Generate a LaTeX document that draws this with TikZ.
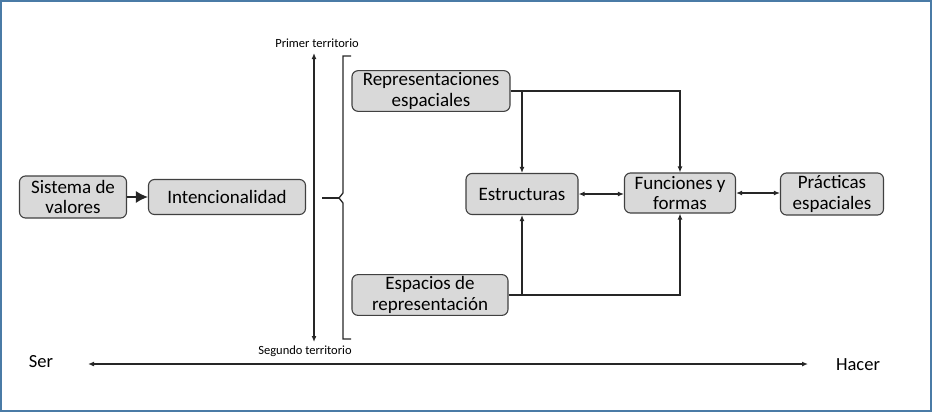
\documentclass[tikz,border=0pt]{standalone}
\usepackage{fontspec}
\setmainfont{Carlito}
\usepackage{xcolor}
\usetikzlibrary{arrows.meta, positioning}

\definecolor{boxgray}{HTML}{D9D9D9}
\definecolor{boxline}{HTML}{404040}
\definecolor{framecol}{HTML}{4A7BA6}

\begin{document}
\begin{tikzpicture}[
        x=1pt, y=-1pt,
        box/.style={rectangle, rounded corners=6pt, draw=boxline, fill=boxgray,
                    line width=1.1pt, align=center, inner sep=2pt,
                    font=\fontsize{19}{20.5}\selectfont},
        lbl/.style={inner sep=0pt, font=\fontsize{12.5}{14}\selectfont},
        end/.style={inner sep=0pt, font=\fontsize{18.5}{20}\selectfont},
        conn/.style={-{Latex[length=6pt,width=5pt]}, line width=1.4pt, black!85},
        dconn/.style={{Latex[length=6pt,width=5pt]}-{Latex[length=6pt,width=5pt]}, line width=1.4pt, black!85},
        big/.style={-{Latex[length=12pt,width=12pt]}, line width=1.5pt, black!85},
    ]
        % frame
        \useasboundingbox (0,0) rectangle (932,413);
        \draw[framecol, line width=2pt] (1,1) rectangle (931,411);

        % left side
        \node[box, minimum width=107pt, minimum height=42pt] (sv)  at (73,197)  {Sistema de\\valores};
        \node[box, minimum width=157pt, minimum height=35pt] (int) at (227,197) {Intencionalidad};
        \draw[big] (sv) -- (int);

        % territories
        \node[lbl] (prim) at (317,43)  {Primer territorio};
        \node[lbl] (seg)  at (305,351) {Segundo territorio};
        \coordinate (tup) at (314,53);
        \coordinate (tdn) at (314,342);
        \draw[dconn] (tup) -- (tdn);

        % brace
        \coordinate (tip) at (339,198);
        \draw[line width=1.3pt, black!85] (351,56) -- (343,56) -- (343,193) -- (tip) -- (343,203) -- (343,339) -- (351,339);
        \draw[line width=1.3pt, black!85] ([xshift=16pt]int.east |- tip) -- (tip);

        % right side
        \node[box, minimum width=158pt, minimum height=38pt] (rep) at (431,91)  {Representaciones\\espaciales};
        \node[box, minimum width=156pt, minimum height=39pt] (esp) at (430,295) {Espacios de\\representación};
        \node[box, minimum width=112pt, minimum height=41pt] (est) at (522,194) {Estructuras};
        \node[box, minimum width=111pt, minimum height=40pt] (fun) at (680,193) {Funciones y\\formas};
        \node[box, minimum width=103pt, minimum height=42pt] (pra) at (832,194) {Prácticas\\espaciales};

        \draw[conn] (rep.east) -| (fun.north);
        \draw[conn] (est.north |- rep.east) -- (est.north);
        \draw[conn] (esp.east) -| (fun.south);
        \draw[conn] (est.south |- esp.east) -- (est.south);
        \draw[dconn] (est.east) -- (est.east -| fun.west);
        \draw[dconn] (fun.east) -- (fun.east -| pra.west);

        % ser / hacer
        \node[end] (ser)   at (41,362)  {Ser};
        \node[end] (hacer) at (858,365) {Hacer};
        \coordinate (sl) at (88,364);
        \coordinate (sr) at (808,364);
        \draw[dconn] (sl) -- (sr);
    \end{tikzpicture}
\end{document}
